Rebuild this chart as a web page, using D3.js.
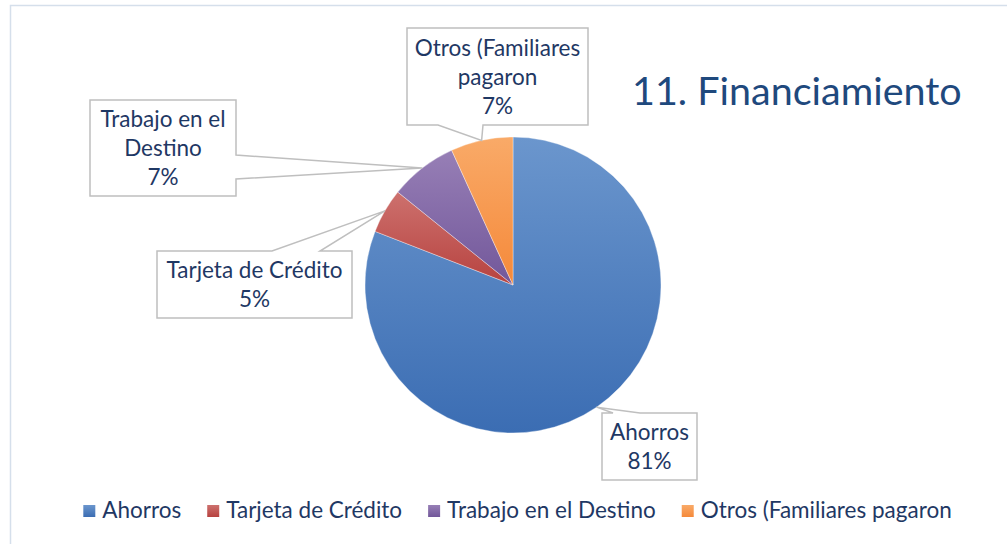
<!DOCTYPE html>
<html><head><meta charset="utf-8">
<script src="https://cdn.jsdelivr.net/npm/d3@7"></script>
<style>body{margin:0;background:#fff;} svg{display:block;font-family:Lato,"Open Sans",sans-serif;}</style>
</head><body>
<svg id="c" width="1007" height="544"></svg>
<script>
const categories = ["Ahorros","Tarjeta de Crédito","Trabajo en el Destino","Otros (Familiares pagaron"];
const values = [80.9, 4.9, 7.4, 6.8];
const labelLines = [["Ahorros"],["Tarjeta de Crédito"],["Trabajo en el","Destino"],["Otros (Familiares","pagaron"]];
const title = "11. Financiamiento";

const colors = ["#4a7ebf","#c0504d","#8064a2","#f79646"];
const lightColors = ["#6b96cd","#cd716e","#977fb6","#f9aa68"];
const darkColors = ["#3b6db3","#b7423f","#72579a","#f5893a"];

const svg = d3.select("#c");
svg.append("rect").attr("x",10.5).attr("y",5.5).attr("width",1100).attr("height",700)
  .attr("fill","#fff").attr("stroke","#d5dfeb").attr("stroke-width",1.5);

const defs = svg.append("defs");
colors.forEach((c,i)=>{
  const g = defs.append("linearGradient").attr("id","g"+i).attr("x1",0).attr("y1",0).attr("x2",0).attr("y2",1);
  g.append("stop").attr("offset","0%").attr("stop-color",lightColors[i]);
  g.append("stop").attr("offset","100%").attr("stop-color",darkColors[i]);
});

const cx = 513, cy = 285, R = 148;
const data = categories.map((c,i)=>({cat:c,value:values[i],i}));
const pie = d3.pie().value(d=>d.value).sort(null);
const arcs = pie(data);
const arc = d3.arc().innerRadius(0).outerRadius(R);
const total = d3.sum(values);
const pct = d3.format(".0%");

const gp = svg.append("g").attr("transform",`translate(${cx},${cy})`);
gp.selectAll("path").data(arcs).join("path")
  .attr("d",arc).attr("fill",d=>`url(#g${d.data.i})`)
  .attr("stroke","rgba(255,255,255,0.5)").attr("stroke-width",0.7);

// callout boxes (layout)
const boxes = [
  {x:602,y:413,w:95,h:67,side:"top",b1:613,b2:640},
  {x:157,y:251,w:195,h:67,side:"top",b1:272,b2:320},
  {x:90,y:100,w:146,h:96,side:"right",b1:155,b2:179},
  {x:407,y:28,w:181,h:97,side:"bottom",b1:438,b2:483}
];
const edgeArc = d3.arc().innerRadius(R).outerRadius(R);
const textColor = "#1f3864";
arcs.forEach((a,i)=>{
  const b = boxes[i];
  const c = edgeArc.centroid(a);
  const px = cx + c[0], py = cy + c[1];
  let p;
  const x0=b.x,y0=b.y,x1=b.x+b.w,y1=b.y+b.h;
  if(b.side==="top") p=`M${x0},${y0}L${b.b1},${y0}L${px},${py}L${b.b2},${y0}L${x1},${y0}L${x1},${y1}L${x0},${y1}Z`;
  else if(b.side==="bottom") p=`M${x0},${y0}L${x1},${y0}L${x1},${y1}L${b.b2},${y1}L${px},${py}L${b.b1},${y1}L${x0},${y1}Z`;
  else p=`M${x0},${y0}L${x1},${y0}L${x1},${b.b1}L${px},${py}L${x1},${b.b2}L${x1},${y1}L${x0},${y1}Z`;
  svg.append("path").attr("d",p).attr("fill","#fff").attr("stroke","#bfbfbf").attr("stroke-width",1.5);
  const lines = labelLines[i].concat([pct(a.data.value/total)]);
  const lh = 29;
  const first = b.y + b.h/2 - (lines.length-1)*lh/2 + 8;
  const t = svg.append("text").attr("text-anchor","middle").attr("font-size",22.5).attr("fill",textColor);
  lines.forEach((l,k)=>t.append("tspan").attr("x",b.x+b.w/2).attr("y",first+k*lh).text(l));
});

svg.append("text").attr("x",632).attr("y",105).attr("font-size",39.5).attr("fill","#1f497d").text(title);

// legend
const lg = svg.append("g");
const items = lg.selectAll("g").data(categories).join("g");
items.append("rect").attr("width",12).attr("height",12).attr("y",-13).attr("fill",(d,i)=>`url(#g${i})`);
items.append("text").attr("x",19).attr("font-size",22.5).attr("fill",textColor).text(d=>d);
let xpos = 0;
const gap = 26;
items.each(function(d,i){
  const w = d3.select(this).select("text").node().getComputedTextLength()+19;
  d3.select(this).attr("transform",`translate(${xpos},0)`);
  xpos += w + gap;
});
const totalW = xpos - gap;
lg.attr("transform",`translate(${517.5-totalW/2},518)`);
</script>
</body></html>
